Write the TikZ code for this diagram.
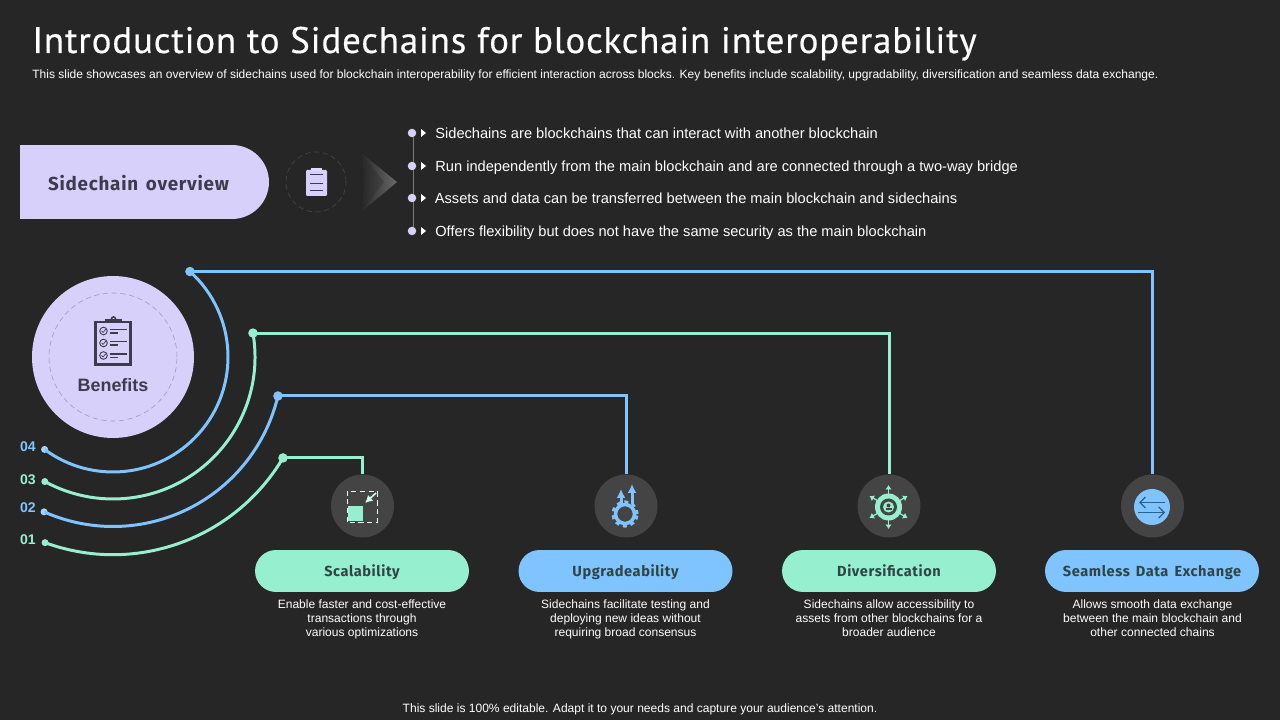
\documentclass[tikz,border=0pt]{standalone}
\usepackage{fontspec}
\setmainfont{Liberation Sans}
\newfontfamily\dinfont[LetterSpace=4,WordSpace=1.5]{Fira Sans}
\newfontfamily\headfont[LetterSpace=2.3,FakeBold=.4]{PT Sans}
\usetikzlibrary{arrows.meta,calc,positioning,shapes.misc}
\definecolor{slidebg}{HTML}{262626}
\definecolor{lav}{HTML}{D6D0FB}
\definecolor{skyline}{HTML}{7FC4FF}
\definecolor{mintline}{HTML}{96F0CF}
\definecolor{darktext}{HTML}{3F3B4E}
\definecolor{pilltext}{HTML}{2F4545}
\definecolor{iconbg}{HTML}{444444}
\definecolor{railgray}{HTML}{7A7A7A}
\definecolor{chevgray}{HTML}{6A6A6A}
\definecolor{swapline}{HTML}{2F5F86}
\tikzset{
  bullettext/.style={anchor=base west,text=white,inner sep=0pt,font=\fontsize{8.33}{10}\selectfont},
  captiontext/.style={anchor=north,text=white,align=center,inner sep=0pt,font=\fontsize{6.85}{7.98}\selectfont},
  pillbox/.style={rounded corners=.42cm,minimum width=4.28cm,minimum height=.84cm,inner sep=0pt,text=pilltext,text height=7.7pt,text depth=1pt,font=\dinfont\bfseries\fontsize{8.3}{10}\selectfont},
  iconbox/.style={circle,fill=iconbg,minimum size=1.26cm,inner sep=0pt},
  bluewire/.style={draw=skyline,line width=1.7pt},
  mintwire/.style={draw=mintline,line width=1.7pt},
  enddot/.style={circle,minimum size=.19cm,inner sep=0pt},
  tipdot/.style={circle,minimum size=.14cm,inner sep=0pt},
  numlabel/.style={inner sep=0pt,font=\bfseries\fontsize{8}{10}\selectfont},
  bulletdot/.style={circle,fill=lav,minimum size=.17cm,inner sep=0pt},
  spreadarrow/.style={mintline,line width=.7pt,-{Latex[length=.9mm,width=1.3mm]}},
  swaparrow/.style={swapline,line width=.7pt,-{Straight Barb[length=1.1mm,width=2.2mm]}}
}
\begin{document}
\begin{tikzpicture}[x=.02cm,y=.02cm,>=Latex]
\fill[slidebg] (0,0) rectangle (1280,720);
\useasboundingbox (0,0) rectangle (1280,720);

% heading
\node[anchor=base west,text=white,inner sep=0pt,font=\headfont\fontsize{21}{24}\selectfont] (title) at (32,667) {Introduction to Sidechains for blockchain interoperability};
\node[anchor=base west,text=white,inner sep=0pt,font=\fontsize{6.84}{8}\selectfont] (subtitle) at (32,641) {This slide showcases an overview of sidechains used for blockchain interoperability for efficient interaction across blocks. Key benefits include scalability, upgradability, diversification and seamless data exchange.};

% overview band
\node[rounded rectangle,rounded rectangle west arc=none,fill=lav,minimum width=4.98cm,minimum height=1.48cm,inner sep=0pt] (ovbox) at (144.5,538) {};
\node[text=darktext,inner sep=0pt,font=\dinfont\bfseries\fontsize{10.7}{13}\selectfont] (ovtext) at (138.5,537) {Sidechain overview};
\node[circle,draw=iconbg,densely dashed,line width=.4pt,minimum size=1.2cm,inner sep=0pt] (ovicon) at (316,538) {};
\fill[lav,rounded corners=.6pt] (306,524) rectangle (327,550);
\fill[lav!80!white] (311,549) rectangle (322,552);
\draw[darktext,line width=.4pt] (310,546)--(323,546) (310,537)--(323,537) (310,530)--(323,530);

% chevrons
\shade[left color=slidebg,right color=chevgray] (360,568)--(397,538)--(360,507)--(378,538)--cycle;
\shade[left color=slidebg,right color=iconbg] (360,568)--(384,538)--(360,507)--(365,538)--cycle;

% bullets
\coordinate (railtop) at (413,587);
\coordinate (railend) at (413,489);
\draw[railgray,line width=.5pt] (railtop)--(railend);
\node[bulletdot] (b1) at (412,587) {};
\node[bulletdot] (b2) at (412,554) {};
\node[bulletdot] (b3) at (412,522) {};
\node[bulletdot] (b4) at (412,489) {};
\fill[white] (421,591)--(426,587)--(421,583)--cycle;
\fill[white] (421,558)--(426,554)--(421,550)--cycle;
\fill[white] (421,526)--(426,522)--(421,518)--cycle;
\fill[white] (421,493)--(426,489)--(421,485)--cycle;
\node[bullettext] (t1) at (435,581) {Sidechains are blockchains that can interact with another blockchain};
\node[bullettext] (t2) at (435,548.5) {Run independently from the main blockchain and are connected through a two-way bridge};
\node[bullettext] (t3) at (434.5,516) {Assets and data can be transferred between the main blockchain and sidechains};
\node[bullettext] (t4) at (435,483.5) {Offers flexibility but does not have the same security as the main blockchain};

% benefits disc
\coordinate (hub) at (113,363);
\node[circle,fill=lav,minimum size=3.24cm,inner sep=0pt] (bencircle) at (hub) {};
\node[circle,draw=darktext!35!lav,densely dashed,line width=.35pt,minimum size=2.56cm,inner sep=0pt] (benring) at (hub) {};
\draw[darktext,line width=1.3pt] (95.5,355.5) rectangle (130.5,398);
\fill[darktext] (105,398) rectangle (122,401);
\draw[darktext,line width=.9pt] (113.5,401) circle (2);
\draw[darktext,line width=.5pt] (103.5,389) circle (3.8) (103.5,377) circle (3.8) (103.5,364.5) circle (3.8);
\draw[darktext,line width=.4pt] (101.5,389)--(103,387.5)--(106,391) (101.5,377)--(103,375.5)--(106,379) (101.5,364.5)--(103,363)--(106,366.5);
\draw[darktext,line width=.8pt] (110,390.5)--(127,390.5) (110,378.5)--(127,378.5) (110,366)--(127,366);
\draw[darktext,line width=.8pt] (110,387)--(118,387) (110,375)--(118,375) (110,362.5)--(118,362.5);
\node[text=darktext,inner sep=0pt,font=\bfseries\fontsize{10.2}{12}\selectfont] (bentext) at (113,335) {Benefits};

% arcs and their ends
\node[enddot,fill=skyline] (a4) at ($(hub)+(48:115)$) {};
\node[tipdot,fill=skyline!70!white] (z4) at ($(hub)+(-126.5:115)$) {};
\node[enddot,fill=mintline] (a3) at ($(hub)+(9.7:142)$) {};
\node[tipdot,fill=mintline] (z3) at ($(hub)+(-118.7:142)$) {};
\node[enddot,fill=skyline] (a2) at ($(hub)+(-13.3:169.5)$) {};
\node[tipdot,fill=skyline!70!white] (z2) at ($(hub)+(-114:169.5)$) {};
\node[enddot,fill=mintline] (a1) at ($(hub)+(-30.7:197.7)$) {};
\node[tipdot,fill=mintline] (z1) at ($(hub)+(-110.1:197.7)$) {};
\draw[bluewire] (a4.center) arc[start angle=48,end angle=-126.5,radius=115];
\draw[mintwire] (a3.center) arc[start angle=9.7,end angle=-118.7,radius=142];
\draw[bluewire] (a2.center) arc[start angle=-13.3,end angle=-114,radius=169.5];
\draw[mintwire] (a1.center) arc[start angle=-30.7,end angle=-110.1,radius=197.7];
\node[numlabel,text=skyline] (n4) at (28,273) {04};
\node[numlabel,text=mintline] (n3) at (28,240) {03};
\node[numlabel,text=skyline] (n2) at (28,212) {02};
\node[numlabel,text=mintline] (n1) at (28,180) {01};

% icons
\node[iconbox] (ic1) at (362.5,214) {};
\node[iconbox] (ic2) at (626,214) {};
\node[iconbox] (ic3) at (889,214) {};
\node[iconbox] (ic4) at (1152.5,214) {};
\draw[mintwire] (a1.center) -| (ic1.north);
\draw[bluewire] (a2.center) -| (ic2.north);
\draw[mintwire] (a3.center) -| (ic3.north);
\draw[bluewire] (a4.center) -| (ic4.north);

% scale icon
\draw[white!85!mintline,densely dashed,line width=.55pt] (347,198) rectangle (377,229);
\fill[mintline] (348,199) rectangle (363,214);
\draw[white!60!mintline,line width=.9pt,-{Latex[length=1.5mm,width=1.6mm]}] (376,227)--(365,217);

% gear icon
\draw[skyline,line width=2pt] (625,206) circle (9.5);
\draw[skyline,line width=1.8pt,dash pattern=on 2.2pt off 2.2pt] (625,206) circle (12);
\draw[skyline,line width=1.7pt,-{Latex[length=1.8mm,width=1.8mm]}] (621,215)--(621,231);
\draw[skyline,line width=1.7pt,-{Latex[length=1.8mm,width=1.8mm]}] (632,216)--(632,236);

% spread icon
\begin{scope}[shift={(888.5,213)}]
\fill[mintline] (0,0) circle (13.5);
\fill[iconbg] (0,0) circle (8.5);
\fill[mintline] (0,0) circle (5.5);
\fill[iconbg] (0,1.5) circle (2);
\fill[iconbg] (-3,-3.5) rectangle (3,-.8);
\draw[spreadarrow] (90:13)--(90:22);
\draw[spreadarrow] (30:13)--(30:22);
\draw[spreadarrow] (150:13)--(150:22);
\draw[spreadarrow] (210:13)--(210:22);
\draw[spreadarrow] (270:13)--(270:22);
\draw[spreadarrow] (330:13)--(330:22);
\end{scope}

% exchange icon
\fill[skyline] (1152,213) circle (18);
\draw[swaparrow] (1165,217.5)--(1139,217.5);
\draw[swaparrow] (1138,207.5)--(1165,207.5);

% pills
\node[pillbox,fill=mintline] (p1) at (362,149) {Scalability};
\node[pillbox,fill=skyline] (p2) at (625.5,149) {Upgradeability};
\node[pillbox,fill=mintline] (p3) at (889,149) {Diversification};
\node[pillbox,fill=skyline] (p4) at (1152,149) {Seamless Data Exchange};

% captions
\node[captiontext] (c1) at (362,121) {Enable faster and cost-effective\\transactions through\\various optimizations};
\node[captiontext] (c2) at (625.5,121) {Sidechains facilitate testing and\\deploying new ideas without\\requiring broad consensus};
\node[captiontext] (c3) at (889,121) {Sidechains allow accessibility to\\assets from other blockchains for a\\broader audience};
\node[captiontext] (c4) at (1152.5,121) {Allows smooth data exchange\\between the main blockchain and\\other connected chains};

% footer
\node[text=white,inner sep=0pt,font=\fontsize{6.85}{8}\selectfont] (foot) at (640,11) {This slide is 100\% editable. Adapt it to your needs and capture your audience's attention.};
\end{tikzpicture}
\end{document}
